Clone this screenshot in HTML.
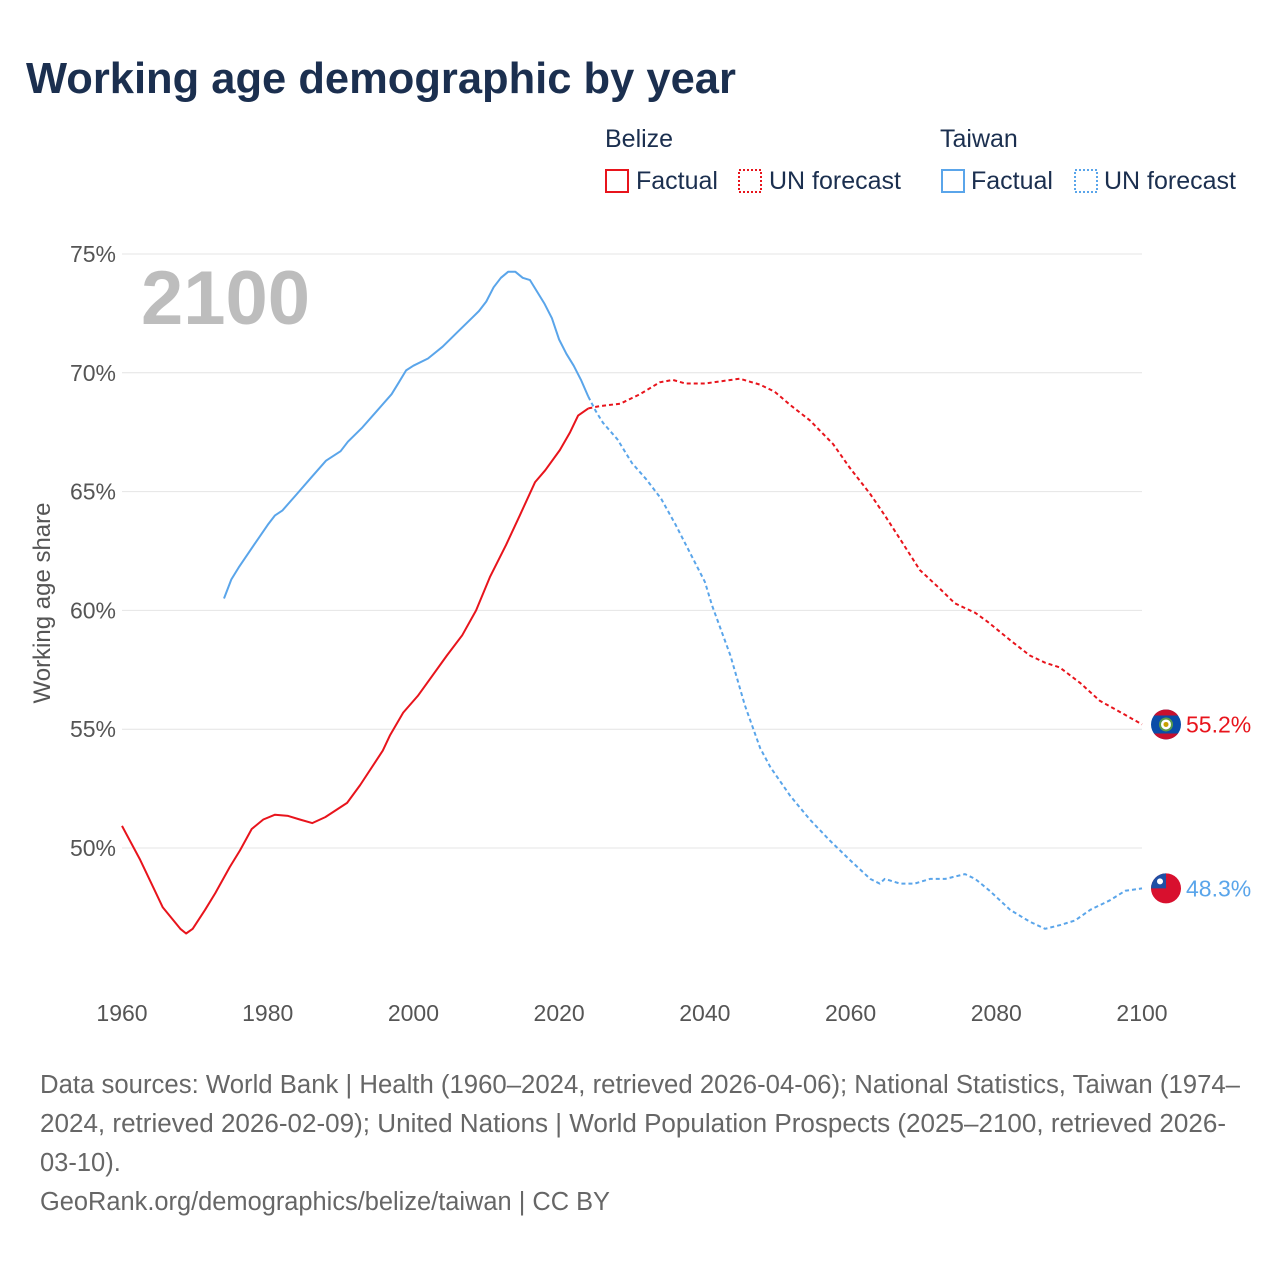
<!DOCTYPE html>
<html><head><meta charset="utf-8"><style>
body{margin:0;background:#fff;font-family:"Liberation Sans",sans-serif;}
svg text{font-family:"Liberation Sans",sans-serif;}
</style></head><body>
<svg id="chart" width="1280" height="1280" xmlns="http://www.w3.org/2000/svg">
<text x="26" y="93" font-size="43.5" font-weight="bold" fill="#1b2f4f">Working age demographic by year</text>
<g font-size="25" fill="#1b2f4f">
 <text x="605" y="147" fill="#1b2f4f">Belize</text>
 <rect x="606" y="170" width="22" height="22" fill="none" stroke="#e8141c" stroke-width="2"/>
 <text x="636" y="189" fill="#1b2f4f">Factual</text>
 <rect x="739" y="170" width="22" height="22" fill="none" stroke="#e8141c" stroke-width="2" stroke-dasharray="2,2"/>
 <text x="769" y="189" fill="#1b2f4f">UN forecast</text>
 <text x="940" y="147" fill="#1b2f4f">Taiwan</text>
 <rect x="942" y="170" width="22" height="22" fill="none" stroke="#5aa5ea" stroke-width="2"/>
 <text x="971" y="189" fill="#1b2f4f">Factual</text>
 <rect x="1075" y="170" width="22" height="22" fill="none" stroke="#5aa5ea" stroke-width="2" stroke-dasharray="2,2"/>
 <text x="1104" y="189" fill="#1b2f4f">UN forecast</text>
</g>
<text x="141" y="324" font-size="76" font-weight="bold" fill="#bdbdbd">2100</text>
<text transform="translate(50,603) rotate(-90)" text-anchor="middle" font-size="24" fill="#555">Working age share</text>
<g id="grid"></g><g id="ticks"></g><g id="series"></g><g id="ends"></g>
<g font-size="25.5" fill="#666">
 <text x="40" y="1093" textLength="1200" lengthAdjust="spacingAndGlyphs">Data sources: World Bank | Health (1960–2024, retrieved 2026-04-06); National Statistics, Taiwan (1974–</text>
 <text x="40" y="1132" textLength="1186" lengthAdjust="spacingAndGlyphs">2024, retrieved 2026-02-09); United Nations | World Population Prospects (2025–2100, retrieved 2026-</text>
 <text x="40" y="1171">03-10).</text>
 <text x="40" y="1210" textLength="570" lengthAdjust="spacingAndGlyphs">GeoRank.org/demographics/belize/taiwan | CC BY</text>
</g>
</svg>
<script>
const yTicks=[50,55,60,65,70,75];
const xTicks=[1960,1980,2000,2020,2040,2060,2080,2100];
const belizeFactYears=[1960,1962.5,1965.6,1968,1968.8,1969.7,1971.4,1972.8,1974.8,1976.2,1977.8,1979.4,1981,1982.8,1984.4,1986.1,1987.9,1990.9,1992.7,1995.8,1996.8,1998.6,2000.6,2004.6,2006.7,2008.6,2010.5,2012.7,2014.6,2016.7,2018.1,2020.1,2021.5,2022.6,2024];
const belizeFactVals=[50.93,49.5,47.5,46.6,46.4,46.6,47.4,48.1,49.2,49.9,50.8,51.2,51.4,51.35,51.2,51.05,51.3,51.9,52.65,54.1,54.75,55.7,56.4,58.1,58.95,60.0,61.4,62.75,64.0,65.4,65.9,66.75,67.5,68.2,68.5];
const belizeFcYears=[2024,2025.6,2028.4,2031.1,2033.8,2035.6,2037.3,2040,2044.8,2047.6,2049.6,2051.7,2054.4,2057.6,2059.9,2062.7,2064.7,2066.8,2069.5,2072.3,2074.3,2077.1,2078.9,2081.9,2084.6,2086.7,2088.7,2091.5,2094.2,2097.7,2100];
const belizeFcVals=[68.5,68.6,68.7,69.1,69.6,69.7,69.55,69.55,69.75,69.5,69.2,68.65,68.0,67.0,66.0,64.9,64.0,63.0,61.7,60.9,60.3,59.9,59.5,58.75,58.1,57.8,57.6,56.95,56.2,55.6,55.2];
const taiwanFactYears=[1974,1975,1976,1978,1980,1981,1982,1984,1986,1988,1990,1991,1993,1995,1997,1998,1999,2000,2002,2004,2006,2008,2009,2010,2011,2012,2013,2014,2015,2016,2017,2018,2019,2020,2021,2022,2023,2024];
const taiwanFactVals=[60.5,61.3,61.8,62.7,63.6,64.0,64.2,64.9,65.6,66.3,66.7,67.1,67.7,68.4,69.1,69.6,70.1,70.3,70.6,71.1,71.7,72.3,72.6,73.0,73.6,74.0,74.25,74.25,74.0,73.9,73.4,72.9,72.3,71.4,70.8,70.3,69.7,69.0];
const taiwanFcYears=[2024,2025,2026,2028,2030,2032,2034,2036,2038,2040,2041,2043.5,2045.5,2047.6,2049,2051.7,2054.4,2057.2,2059.9,2062.7,2064,2064.7,2066.8,2068.8,2070.9,2073,2075.7,2077.1,2079.1,2081.9,2084.6,2086.7,2088.7,2090.8,2092.9,2095.6,2097.7,2100];
const taiwanFcVals=[69.0,68.4,67.9,67.2,66.2,65.5,64.7,63.6,62.4,61.2,60.2,58.1,56.0,54.2,53.4,52.2,51.2,50.3,49.5,48.7,48.5,48.7,48.5,48.5,48.7,48.7,48.9,48.7,48.2,47.4,46.9,46.6,46.75,46.95,47.4,47.8,48.2,48.3];
const NS="http://www.w3.org/2000/svg";
const X=y=>122+(y-1960)*(1020/140);
const Y=v=>848-(v-50)*(594/25);
function mk(t,a,p){const e=document.createElementNS(NS,t);for(const k in a)e.setAttribute(k,a[k]);document.getElementById(p).appendChild(e);return e;}
yTicks.forEach(v=>{
 const l=mk('line',{x1:122,x2:1142,y1:Y(v),y2:Y(v),stroke:'#e4e4e4','stroke-width':1},'grid');
 
 
 const t=mk('text',{x:116,y:Y(v)+8,'text-anchor':'end','font-size':23,fill:'#555'},'ticks');
 t.textContent=v+'%';
 
 
});
xTicks.forEach(v=>{
 const t=mk('text',{x:X(v),y:1021,'text-anchor':'middle','font-size':23,fill:'#555'},'ticks');
 t.textContent=v;
 
 
});
function line(xs,vs,color,dash,name){
 const d=xs.map((x,i)=>(i?'L':'M')+X(x).toFixed(1)+','+Y(vs[i]).toFixed(1)).join('');
 const p=mk('path',{d:d,fill:'none',stroke:color,'stroke-width':2,'stroke-linejoin':'round'},'series');
 if(dash)p.setAttribute('stroke-dasharray','4,3');
 
 
}
line(belizeFactYears,belizeFactVals,'#e8141c',false,'belize-factual-line');
line(belizeFcYears,belizeFcVals,'#e8141c',true,'belize-forecast-line');
line(taiwanFactYears,taiwanFactVals,'#5aa5ea',false,'taiwan-factual-line');
line(taiwanFcYears,taiwanFcVals,'#5aa5ea',true,'taiwan-forecast-line');
const bv=belizeFcVals[belizeFcVals.length-1], tv=taiwanFcVals[taiwanFcVals.length-1];
let g=mk('g',{},'ends');


const by=Y(bv);
g.innerHTML=`<circle cx="1166" cy="${by}" r="15" fill="#0a4ca8"/><path d="M1154,${by-9} A15,15 0 0 1 1178,${by-9}Z" fill="#c8102e"/><path d="M1154,${by+9} A15,15 0 0 0 1178,${by+9}Z" fill="#c8102e"/><circle cx="1166" cy="${by}" r="6" fill="#fff" stroke="#5a9a4a" stroke-width="2"/><circle cx="1166" cy="${by}" r="2.5" fill="#c8a000"/>`;
let lb=mk('text',{x:1186,y:by+8,'font-size':23,fill:'#e8141c'},'ends');
lb.textContent=bv.toFixed(1)+'%';


let g2=mk('g',{},'ends');


const ty=Y(tv);
g2.innerHTML=`<circle cx="1166" cy="${ty}" r="15" fill="#d8102e"/><path d="M1166,${ty-15} A15,15 0 0 0 1151,${ty} L1166,${ty}Z" fill="#1f4fa5"/><circle cx="1160" cy="${ty-7}" r="3" fill="#fff"/>`;
let lt=mk('text',{x:1186,y:ty+8,'font-size':23,fill:'#5aa5ea'},'ends');
lt.textContent=tv.toFixed(1)+'%';


</script>
</body></html>
